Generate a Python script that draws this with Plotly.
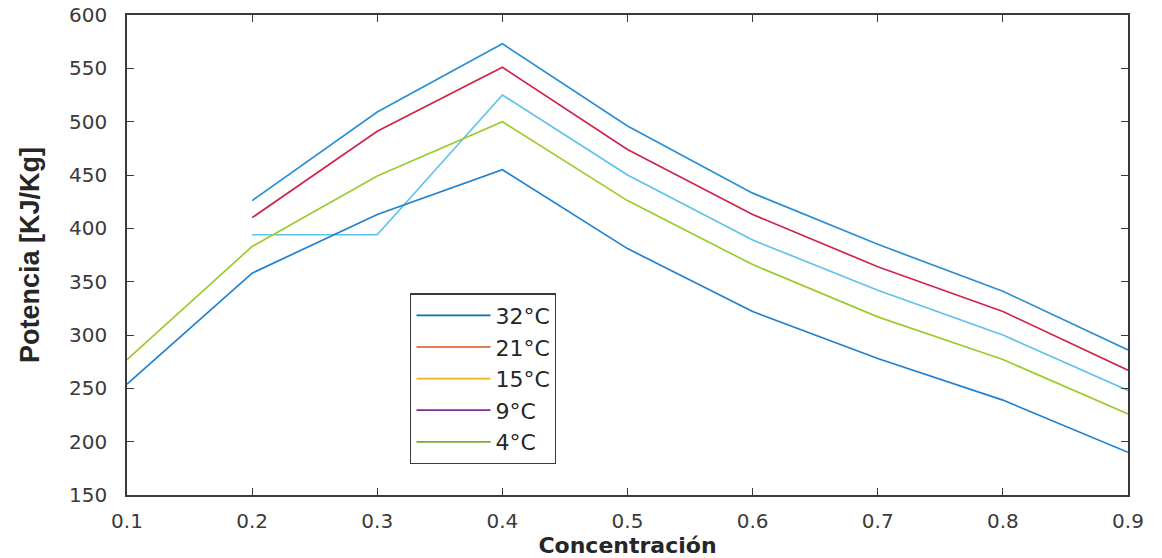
import plotly.graph_objects as go

conc = [0.1, 0.2, 0.3, 0.4, 0.5, 0.6, 0.7, 0.8, 0.9]

# Visible curves (as drawn in the figure)
curve_top_blue = [None, 426, 509, 573, 496, 433, 385, 341, 286]
curve_red = [None, 410, 491, 551, 474, 413, 364, 322, 267]
curve_cyan = [None, 394, 394, 525, 450, 389, 342, 300, 248]
curve_green = [277, 383, 449, 500, 426, 366, 317, 277, 226]
curve_bottom_blue = [254, 358, 413, 455, 381, 322, 278, 239, 190]

curves = [
    (curve_top_blue, "#2A8FD5"),
    (curve_red, "#D1244A"),
    (curve_cyan, "#5EC3EA"),
    (curve_green, "#9CCB2E"),
    (curve_bottom_blue, "#1F80CF"),
]

# Legend entries (as labelled in the figure)
legend_labels = ["32°C", "21°C", "15°C", "9°C", "4°C"]
legend_colors = ["#0072BD", "#D95319", "#EDB120", "#7E2F8E", "#77AC30"]

x_ticks = [0.1, 0.2, 0.3, 0.4, 0.5, 0.6, 0.7, 0.8, 0.9]
y_ticks = [150, 200, 250, 300, 350, 400, 450, 500, 550, 600]

fig = go.Figure()
for ys, col in curves:
    fig.add_trace(go.Scatter(x=conc, y=ys, mode="lines", showlegend=False,
                             line=dict(color=col, width=1.7), connectgaps=False,
                             hoverinfo="skip"))
for lab, col in zip(legend_labels, legend_colors):
    fig.add_trace(go.Scatter(x=[None], y=[None], mode="lines", name=lab,
                             line=dict(color=col, width=1.7)))

axis_common = dict(
    showline=True, linecolor="#3a3a3a", linewidth=1.5, mirror="ticks",
    ticks="inside", ticklen=7, tickcolor="#3a3a3a", tickwidth=1.2,
    showgrid=False, zeroline=False, automargin=False,
    tickfont=dict(family="DejaVu Sans", size=20, color="#3a3a3a"),
)

fig.update_layout(
    width=1162, height=558,
    margin=dict(l=127, r=34, t=15, b=63),
    paper_bgcolor="white", plot_bgcolor="white",
    xaxis=dict(range=[0.1, 0.9], tickvals=x_ticks,
               ticktext=[f"{v:.1f}" for v in x_ticks],
               ticklabelstandoff=7,
               title=dict(text="<b>Concentración</b>", standoff=3,
                          font=dict(family="DejaVu Sans", size=22, color="#262626")),
               **axis_common),
    yaxis=dict(range=[150, 600], tickvals=y_ticks,
               ticktext=[str(v) for v in y_ticks],
               ticklabelstandoff=14,
               title=dict(text="<b>Potencia [KJ/Kg]</b>", standoff=22,
                          font=dict(family="Liberation Sans", size=27, color="#262626")),
               **axis_common),
    legend=dict(x=0.283, y=0.42, xanchor="left", yanchor="top",
                bgcolor="white", bordercolor="#3a3a3a", borderwidth=1.2,
                font=dict(family="DejaVu Sans", size=22, color="#262626"),
                itemwidth=74, tracegroupgap=0),
)

fig.write_html("out.html")
